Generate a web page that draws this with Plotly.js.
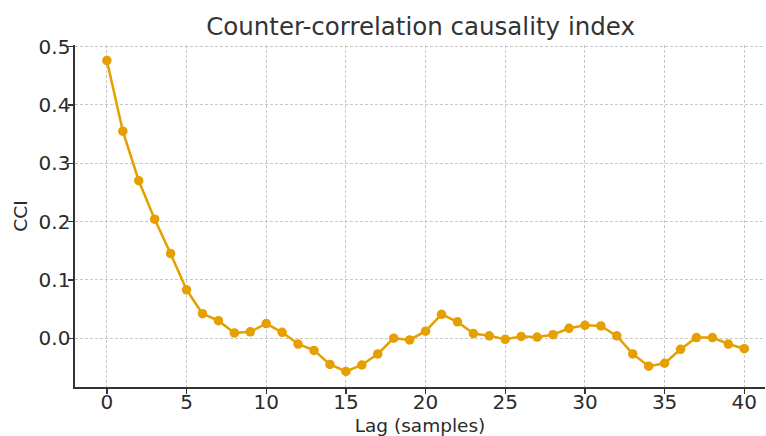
<!DOCTYPE html>
<html>
<head>
<meta charset="utf-8">
<script src="https://cdn.plot.ly/plotly-3.0.1.min.js"></script>
<style>html,body{margin:0;padding:0;background:#fff}#chart{width:766px;height:436px}</style>
</head>
<body>
<div id="chart"></div>
<script>
const lags = [0,1,2,3,4,5,6,7,8,9,10,11,12,13,14,15,16,17,18,19,20,21,22,23,24,25,26,27,28,29,30,31,32,33,34,35,36,37,38,39,40];
const cci = [0.476,0.355,0.270,0.204,0.145,0.083,0.042,0.030,0.009,0.011,0.025,0.010,-0.010,-0.021,-0.045,-0.057,-0.046,-0.027,0.000,-0.003,0.012,0.041,0.028,0.008,0.004,-0.002,0.003,0.002,0.006,0.017,0.022,0.021,0.004,-0.027,-0.048,-0.043,-0.019,0.001,0.001,-0.010,-0.018];
const xTicks = [0,5,10,15,20,25,30,35,40];
const yTicks = [0.0,0.1,0.2,0.3,0.4,0.5];

const font = {family: 'DejaVu Sans, sans-serif', color: '#2b2b2b'};
Plotly.newPlot('chart', [{
  x: lags, y: cci, type: 'scatter', mode: 'lines+markers',
  line: {color: '#E69F00', width: 2.5},
  marker: {color: '#E69F00', size: 9.5}
}], {
  width: 766, height: 436,
  margin: {l: 75, r: 1, t: 45, b: 49},
  paper_bgcolor: '#ffffff', plot_bgcolor: '#ffffff',
  showlegend: false,
  font: Object.assign({size: 20}, font),
  title: {text: 'Counter-correlation causality index', font: Object.assign({}, font, {size: 24.5, color: '#333333'}), x: 0.549, xanchor: 'center', y: 0.94, yanchor: 'middle'},
  xaxis: {
    range: [-2, 41.3], tickvals: xTicks, ticktext: xTicks.map(String),
    showline: true, linecolor: '#333333', linewidth: 1.6,
    ticks: 'outside', ticklen: 5, tickcolor: '#333333', tickwidth: 1.3,
    showgrid: true, gridcolor: '#c8c8c8', griddash: '3px,2px', gridwidth: 1,
    zeroline: false, tickfont: {size: 20}, automargin: false, ticklabelstandoff: -9,
    title: {text: 'Lag (samples)', font: {size: 18.5}, standoff: 13}
  },
  yaxis: {
    range: [-0.0837, 0.5027], tickvals: yTicks, ticktext: yTicks.map(v => v.toFixed(1)),
    showline: true, linecolor: '#333333', linewidth: 1.6,
    ticks: 'outside', ticklen: 5, tickcolor: '#333333', tickwidth: 1.3,
    showgrid: true, gridcolor: '#c8c8c8', griddash: '3px,2px', gridwidth: 1,
    zeroline: false, tickfont: {size: 20}, automargin: false, ticklabelstandoff: -6,
    title: {text: 'CCI', font: {size: 18.5}, standoff: 6}
  }
}, {displayModeBar: false, staticPlot: true});
</script>
</body>
</html>
